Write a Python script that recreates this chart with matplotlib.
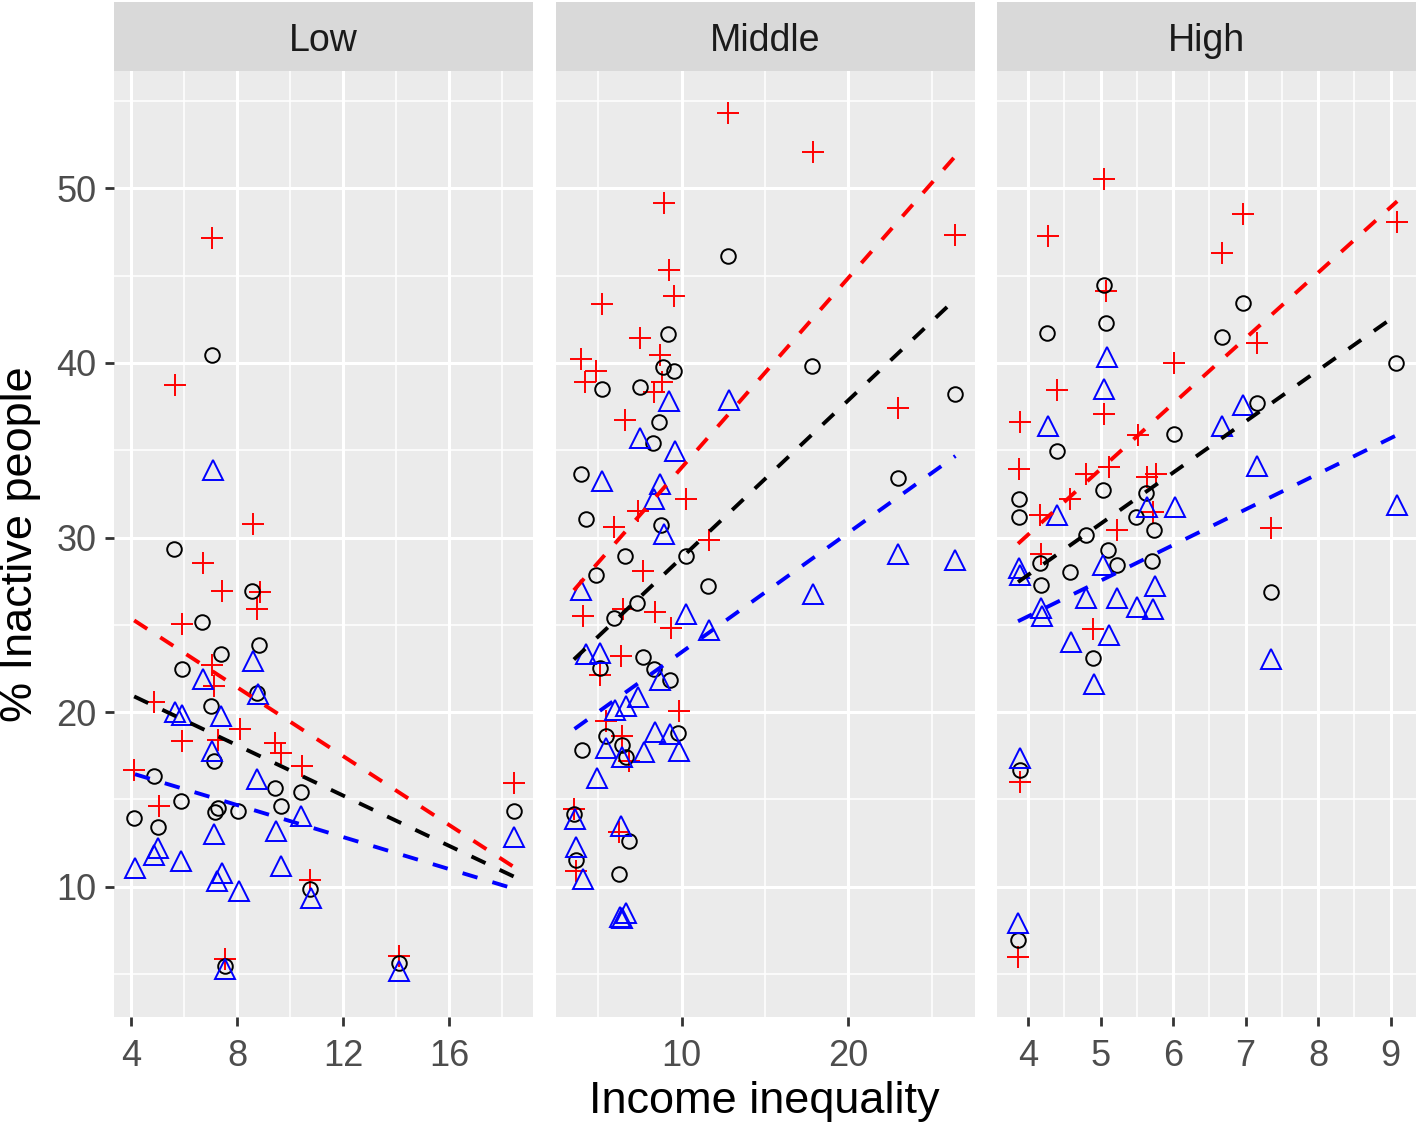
import matplotlib
matplotlib.use('Agg')
import matplotlib.pyplot as plt
from matplotlib.ticker import FixedLocator
import numpy as np

plt.rcParams['font.family'] = ['Liberation Sans', 'DejaVu Sans']

# --- DATA ---
# Low panel
low_plus_x = [7.07, 5.67, 8.6, 6.73, 7.42, 8.85, 8.74, 5.94, 7.05, 7.13, 4.88, 8.1,
              5.92, 7.28, 9.42, 9.66, 10.43, 4.12, 5.04, 10.74, 7.55, 14.11, 18.45]
low_plus_y = [47.13, 38.72, 30.75, 28.55, 26.93, 26.88, 25.92, 25.02, 22.7, 21.48, 20.6, 19.04,
              18.33, 18.41, 18.23, 17.66, 16.9, 16.7, 14.64, 10.38, 5.85, 6.04, 15.94]
low_circ_x = [7.07, 5.63, 8.57, 6.69, 8.82, 7.38, 5.94, 8.76, 7.03, 7.11, 4.85, 9.42,
              10.42, 5.88, 7.28, 7.15, 8.05, 9.64, 4.12, 5.0, 10.74, 7.55, 14.11, 18.45]
low_circ_y = [40.44, 29.32, 26.93, 25.15, 23.85, 23.34, 22.48, 21.1, 20.34, 17.22, 16.33, 15.64,
              15.44, 14.93, 14.49, 14.3, 14.32, 14.64, 13.93, 13.42, 9.86, 5.47, 5.62, 14.32]
low_tri_x = [7.08, 8.6, 6.71, 8.8, 5.67, 5.94, 7.4, 7.05, 8.76, 10.42, 7.11, 9.45,
             5.03, 4.88, 5.9, 4.15, 9.66, 7.42, 7.26, 8.07, 10.77, 7.55, 14.11, 18.45]
low_tri_y = [33.85, 22.95, 21.9, 21.04, 20.03, 19.86, 19.76, 17.8, 16.17, 14.03, 13.02, 13.2,
             12.2, 11.82, 11.45, 11.05, 11.16, 10.78, 10.34, 9.77, 9.38, 5.31, 5.18, 12.83]

# Middle panel
mid_plus_x = [12.81, 17.86, 8.92, 26.39, 9.22, 9.54, 5.25, 7.49, 8.72, 3.99, 4.89, 4.23,
              8.82, 8.38, 22.95, 6.63, 10.24, 7.38, 5.95, 11.62, 7.68, 6.49, 4.09, 8.44,
              9.34, 6.35, 5.09, 9.84, 5.49, 6.45, 6.83, 3.55, 6.25, 3.65]
mid_plus_y = [54.34, 52.1, 49.14, 47.32, 45.3, 43.85, 43.35, 41.44, 40.48, 40.2, 39.52, 38.88,
              38.88, 38.34, 37.44, 36.71, 32.22, 31.5, 30.6, 29.84, 28.11, 25.92, 25.5, 25.73,
              24.81, 23.24, 22.15, 20.05, 19.51, 18.62, 17.18, 14.45, 13.15, 10.91]
mid_circ_x = [12.81, 9.18, 17.8, 8.88, 9.54, 5.23, 7.53, 26.39, 8.68, 8.32, 3.95, 22.95,
              4.25, 8.78, 6.59, 10.24, 4.89, 11.58, 7.33, 5.95, 7.68, 5.09, 8.38, 9.32,
              9.78, 5.45, 6.45, 4.05, 6.65, 3.55, 6.83, 3.69, 6.23]
mid_circ_y = [46.14, 41.63, 39.83, 39.75, 39.52, 38.53, 38.63, 38.24, 36.62, 35.44, 33.66, 33.43,
              31.04, 30.69, 28.92, 28.92, 27.87, 27.22, 26.24, 25.4, 23.15, 22.51, 22.48, 21.85,
              18.81, 18.62, 18.12, 17.83, 17.41, 14.16, 12.63, 11.52, 10.72]
mid_tri_x = [9.22, 12.83, 7.53, 9.58, 5.25, 8.72, 8.34, 8.92, 22.95, 26.41, 17.86, 3.99,
             10.28, 11.62, 4.25, 5.09, 8.74, 7.38, 6.65, 5.99, 8.43, 9.32, 5.49, 7.74,
             9.82, 6.45, 4.93, 3.59, 6.39, 3.69, 4.09, 6.29, 6.69, 6.43]
mid_tri_y = [37.81, 37.87, 35.7, 34.94, 33.24, 33.08, 32.22, 30.22, 29.07, 28.69, 26.78, 27.01,
             25.63, 24.73, 23.34, 23.39, 21.82, 20.86, 20.38, 20.1, 18.85, 18.75, 17.93, 17.7,
             17.8, 17.41, 16.2, 13.88, 13.5, 12.25, 10.44, 8.28, 8.47, 8.2]

# High panel
high_plus_x = [5.05, 6.96, 9.09, 4.27, 6.67, 5.08, 7.15, 6.01, 4.4, 5.04, 3.89, 5.51, 3.88,
               5.12, 4.8, 5.64, 5.76, 4.17, 5.72, 7.35, 5.23, 4.58, 4.18, 4.9, 3.89, 3.86]
high_plus_y = [50.53, 48.53, 48.05, 47.27, 46.27, 44.13, 41.15, 40.0, 38.47, 37.1, 36.62, 35.86, 33.94,
               34.04, 33.62, 33.47, 33.66, 31.27, 31.46, 30.54, 30.45, 32.19, 29.07, 24.77, 16.02, 6.0]
high_circ_x = [5.04, 6.96, 5.08, 4.26, 6.67, 9.08, 7.15, 6.01, 4.4, 5.03, 5.63, 3.88, 3.87,
               5.49, 5.74, 4.8, 5.1, 4.17, 5.23, 5.71, 4.58, 4.18, 7.35, 4.9, 3.89, 3.86]
high_circ_y = [44.46, 43.41, 42.26, 41.74, 41.46, 40.0, 37.73, 35.95, 34.94, 32.74, 32.57, 32.22, 31.17,
               31.17, 30.45, 30.16, 29.3, 28.55, 28.44, 28.63, 28.02, 27.26, 26.88, 23.11, 16.66, 6.96]
high_tri_x = [5.09, 5.05, 6.96, 4.27, 6.67, 7.15, 5.64, 6.02, 9.09, 4.4, 5.03, 3.88, 3.89,
              5.75, 4.8, 5.23, 5.5, 5.72, 4.18, 4.19, 5.11, 4.59, 4.91, 7.35, 3.89, 3.86]
high_tri_y = [40.35, 38.53, 37.61, 36.38, 36.38, 34.09, 31.74, 31.74, 31.84, 31.27, 28.4, 28.25, 27.83,
              27.2, 26.53, 26.53, 26.05, 25.92, 25.96, 25.53, 24.44, 24.0, 21.62, 23.05, 17.35, 7.95]

# fitted lm lines (intercept, slope)
low_fit = {'plus': (29.32, -0.987), 'circ': (23.87, -0.721), 'tri': (18.35, -0.459)}
mid_fit = {'plus': (23.12, 1.088), 'circ': (19.81, 0.903), 'tri': (16.58, 0.685)}
high_fit = {'plus': (15.17, 3.75), 'circ': (16.14, 2.93), 'tri': (17.33, 2.04)}

# --- STYLE ---
W, H = 1418, 1128
PANEL_BG = '#EBEBEB'
STRIP_BG = '#D9D9D9'
TICK_COL = '#333333'
LABEL_COL = '#4D4D4D'

fig = plt.figure(figsize=(W / 100, H / 100), dpi=100)

panels = [
    dict(name='Low', left=114, xlim=(3.36, 19.15), major=[4, 8, 12, 16], minor=[6, 10, 14, 18],
         plus=(low_plus_x, low_plus_y), circ=(low_circ_x, low_circ_y), tri=(low_tri_x, low_tri_y),
         fit=low_fit),
    dict(name='Middle', left=556, xlim=(2.48, 27.58), major=[10, 20], minor=[5, 15, 25],
         plus=(mid_plus_x, mid_plus_y), circ=(mid_circ_x, mid_circ_y), tri=(mid_tri_x, mid_tri_y),
         fit=mid_fit),
    dict(name='High', left=997, xlim=(3.57, 9.35), major=[4, 5, 6, 7, 8, 9],
         minor=[4.5, 5.5, 6.5, 7.5, 8.5],
         plus=(high_plus_x, high_plus_y), circ=(high_circ_x, high_circ_y), tri=(high_tri_x, high_tri_y),
         fit=high_fit),
]

PANEL_W = 419
PANEL_TOP, PANEL_BOT = 71, 1017
STRIP_TOP = 2

series_style = {
    'plus': dict(marker='+', ms=16.5, mew=1.4, color='red', mfc='none'),
    'circ': dict(marker='o', ms=10.5, mew=1.4, color='black', mfc='none'),
    'tri': dict(marker='^', ms=14, mew=1.4, color='blue', mfc='none'),
}
line_col = {'plus': 'red', 'circ': 'black', 'tri': 'blue'}

for i, p in enumerate(panels):
    ax = fig.add_axes([p['left'] / W, 1 - PANEL_BOT / H, PANEL_W / W, (PANEL_BOT - PANEL_TOP) / H])
    ax.set_facecolor(PANEL_BG)
    for s in ax.spines.values():
        s.set_visible(False)
    ax.set_xlim(*p['xlim'])
    ax.set_ylim(2.54, 56.72)
    ax.xaxis.set_major_locator(FixedLocator(p['major']))
    ax.xaxis.set_minor_locator(FixedLocator(p['minor']))
    ax.yaxis.set_major_locator(FixedLocator([10, 20, 30, 40, 50]))
    ax.yaxis.set_minor_locator(FixedLocator([5, 15, 25, 35, 45, 55]))
    ax.set_axisbelow(True)
    ax.grid(which='major', color='white', lw=2.2)
    ax.grid(which='minor', color='white', lw=1.1)
    ax.tick_params(which='minor', length=0)
    ax.tick_params(which='major', length=6.5, width=2, color=TICK_COL,
                   labelsize=26, labelcolor=LABEL_COL, pad=6)
    ax.tick_params(axis='x', pad=9.5)
    if i > 0:
        ax.tick_params(axis='y', left=False, labelleft=False)

    # points
    for key in ['plus', 'circ', 'tri']:
        x, y = p[key]
        ax.plot(x, y, linestyle='none', zorder=3, **series_style[key])

    # dashed lm lines over each series' x range
    for key in ['plus', 'circ', 'tri']:
        x = np.array(p[key][0])
        a, b = p['fit'][key]
        xs = np.array([x.min(), x.max()])
        ax.plot(xs, a + b * xs, color=line_col[key], lw=2.8, linestyle=(0, (4, 4)), zorder=4)

    # strip
    sax = fig.add_axes([p['left'] / W, 1 - PANEL_TOP / H, PANEL_W / W, (PANEL_TOP - STRIP_TOP) / H])
    sax.set_facecolor(STRIP_BG)
    sax.set_xticks([])
    sax.set_yticks([])
    for s in sax.spines.values():
        s.set_visible(False)
    sax.text(0.5, 0.43, p['name'], ha='center', va='center', fontsize=27, color='#1A1A1A',
             transform=sax.transAxes)

fig.text(764.5 / W, 1 - 1102 / H, 'Income inequality', ha='center', va='center', fontsize=32.5)
fig.text(21 / W, 1 - 544 / H, '% Inactive people', ha='center', va='center', fontsize=32.5, rotation=90)

fig.savefig('out.png', dpi=100)
